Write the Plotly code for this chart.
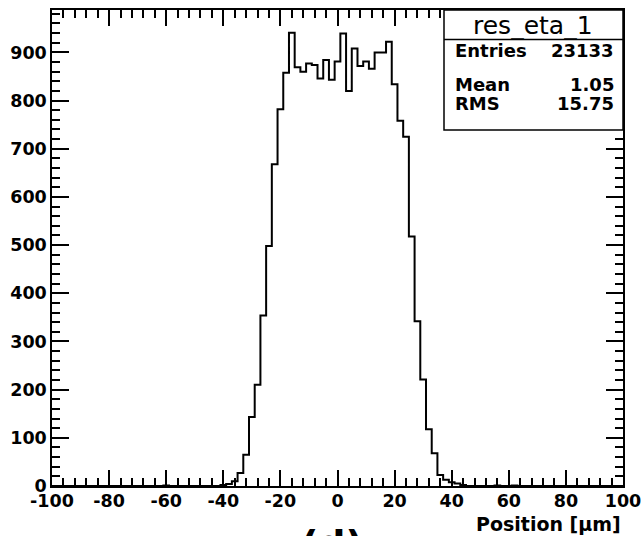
import plotly.graph_objects as go

# ---- data (bin width 2 um, centres on even values) ----
core_centers = [-40, -38, -36, -34, -32, -30, -28, -26, -24, -22, -20, -18, -16, -14, -12,
                -10, -8, -6, -4, -2, 0, 2, 4, 6, 8, 10, 12, 14, 16, 18, 20, 22, 24, 26,
                28, 30, 32, 34, 36, 38, 40, 42, 44]
core_counts = [2, 4, 10, 27, 65, 143, 210, 354, 498, 668, 782, 858, 941, 869, 860,
               877, 874, 846, 884, 843, 881, 939, 820, 908, 872, 881, 866, 900, 900, 922,
               834, 758, 725, 518, 342, 221, 118, 68, 23, 13, 8, 5, 2]
tail_centers = [-60, 56, 62]
tail_counts = [1, 1, 1]

x_range = [-100, 100]
y_range = [0, 988]
x_tick_vals = [-100, -80, -60, -40, -20, 0, 20, 40, 60, 80, 100]
x_tick_text = ["-100", "-80", "-60", "-40", "-20", "0", "20", "40", "60", "80", "100"]
y_tick_vals = [0, 100, 200, 300, 400, 500, 600, 700, 800, 900]

x_title = "Position [\u00b5m]"
stats_title = "res_eta_1"
stats_labels = ["Entries", "Mean", "RMS"]
stats_values = ["23133", "1.05", "15.75"]
panel_label = "(d)"

# full histogram (empty bins are zero)
count_map = dict(zip(core_centers, core_counts))
count_map.update(dict(zip(tail_centers, tail_counts)))
all_centers = list(range(x_range[0], x_range[1] + 1, 2))
all_counts = [count_map.get(c, 0) for c in all_centers]

W, H = 642, 536
L, R, T, B = 52, 19, 10, 50
pw, ph = W - L - R, H - T - B


def px(xp):
    return (xp - L) / pw


def py(yp):
    return (H - B - yp) / ph


FONT = "DejaVu Sans"

fig = go.Figure()
fig.add_trace(go.Scatter(
    x=all_centers, y=all_counts, mode="lines",
    line=dict(shape="hvh", color="black", width=2),
    hoverinfo="skip", showlegend=False,
))

axis_common = dict(
    showline=True, linecolor="black", linewidth=1.5, mirror="allticks",
    ticks="inside", tickcolor="black", tickwidth=1.5,
    showgrid=False, zeroline=False, automargin=False,
    tickfont=dict(family=FONT, size=17.5, color="black", weight="bold"),
)

fig.update_xaxes(
    range=x_range, tickvals=x_tick_vals, ticktext=x_tick_text, ticklen=16,
    ticklabelstandoff=-2,
    minor=dict(dtick=4, tick0=0, ticks="inside", ticklen=8, tickcolor="black", tickwidth=1.5),
    **axis_common,
)
fig.update_yaxes(
    range=y_range, tickvals=y_tick_vals, ticklen=17,
    minor=dict(dtick=20, tick0=0, ticks="inside", ticklen=8, tickcolor="black", tickwidth=1.5),
    **axis_common,
)

# stats box
box_l, box_r, box_t, box_div, box_b = 444, 623, 10, 39.5, 130
fig.add_shape(type="rect", xref="paper", yref="paper",
              x0=px(box_l), x1=px(box_r), y0=py(box_b), y1=py(box_t),
              line=dict(color="black", width=1.5), fillcolor="white", layer="above")
fig.add_shape(type="line", xref="paper", yref="paper",
              x0=px(box_l), x1=px(box_r), y0=py(box_div), y1=py(box_div),
              line=dict(color="black", width=1.5), layer="above")

annotations = [
    dict(text=stats_title, x=px(533), y=py(25), xanchor="center", yanchor="middle",
         font=dict(family=FONT, size=25, color="black")),
]
row_y = [50, 84, 103.5]
for lab, val, yy in zip(stats_labels, stats_values, row_y):
    annotations.append(dict(text=lab, x=px(453), y=py(yy), xanchor="left", yanchor="middle",
                            font=dict(family=FONT, size=18, color="black", weight="bold")))
    annotations.append(dict(text=val, x=px(616), y=py(yy), xanchor="right", yanchor="middle",
                            font=dict(family=FONT, size=18, color="black", weight="bold")))

annotations.append(dict(text=x_title, x=px(623), y=py(524), xanchor="right", yanchor="middle",
                        font=dict(family=FONT, size=19, color="black", weight="bold")))
annotations.append(dict(text=panel_label, x=px(332), y=py(520), xanchor="center", yanchor="top",
                        font=dict(family=FONT, size=38, color="black", weight="bold")))
for a in annotations:
    a.update(xref="paper", yref="paper", showarrow=False)

fig.update_layout(
    width=W, height=H,
    margin=dict(l=L, r=R, t=T, b=B, pad=0),
    paper_bgcolor="white", plot_bgcolor="white",
    annotations=annotations,
)

fig.write_html("out.html")
